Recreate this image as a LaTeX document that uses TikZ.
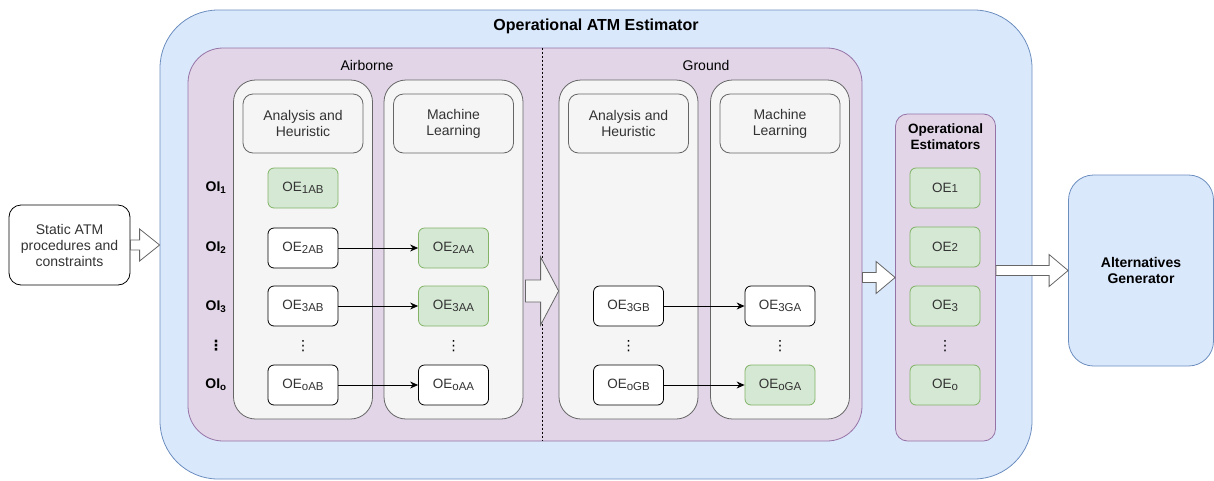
\documentclass[tikz,border=0pt]{standalone}
\usepackage{fontspec}
\setmainfont{Liberation Sans}
\newfontfamily\symfont{DejaVu Sans}
\usetikzlibrary{arrows.meta, calc, positioning}

\definecolor{atmblue}{HTML}{DAE8FC}
\definecolor{atmbluedraw}{HTML}{6C8EBF}
\definecolor{atmpurple}{HTML}{E1D5E7}
\definecolor{atmpurpledraw}{HTML}{9673A6}
\definecolor{colgray}{HTML}{F5F5F5}
\definecolor{colgraydraw}{HTML}{666666}
\definecolor{oegreen}{HTML}{D5E8D4}
\definecolor{oegreendraw}{HTML}{82B366}
\definecolor{txtgray}{HTML}{333333}

\newcommand{\lowsub}[1]{\raisebox{-0.35ex}{\fontsize{11.5}{11.5}\selectfont #1}}
\newcommand{\vdotsym}{{\symfont ⋮}}
\newcommand{\blockarrow}[6][white]{%
  \draw[bigarrow, fill=#1] let \p1=(#2), \p2=(#3) in
    (\x1,{\y1+#4}) -- ({\x2-#6},{\y1+#4}) -- ({\x2-#6},{\y1+#5}) -- (\x2,\y1)
    -- ({\x2-#6},{\y1-#5}) -- ({\x2-#6},{\y1-#4}) -- (\x1,{\y1-#4}) -- cycle;}

\begin{document}
\begin{tikzpicture}[x=1pt, y=-1pt,
  every node/.style={font=\fontsize{14}{16}\selectfont, align=center},
  bluebox/.style={draw=atmbluedraw, fill=atmblue, line width=0.8pt},
  purplebox/.style={draw=atmpurpledraw, fill=atmpurple, line width=0.8pt},
  column/.style={draw=colgraydraw, fill=colgray, line width=0.8pt, rounded corners=22pt, minimum width=139pt, minimum height=339pt},
  header/.style={draw=colgraydraw, fill=colgray, text=txtgray, line width=0.8pt, rounded corners=10pt, minimum width=120pt, minimum height=59pt},
  oe/.style={draw=black, fill=white, text=txtgray, line width=0.8pt, rounded corners=6pt, minimum width=70pt, minimum height=40pt, font=\fontsize{13.5}{16}\selectfont},
  oegood/.style={oe, draw=oegreendraw, fill=oegreen},
  oi/.style={font=\bfseries\fontsize{14}{16}\selectfont},
  link/.style={-{Stealth[length=8pt,width=7pt]}, line width=0.8pt},
  bigarrow/.style={draw=colgraydraw, line width=0.8pt}]
\useasboundingbox (0,0) rectangle (1214,480);

% Operational ATM Estimator
\node[bluebox, rounded corners=58pt, minimum width=872pt, minimum height=469pt] (atm) at (596,244.5) {};
\node[font=\bfseries\fontsize{16}{18}\selectfont] (atmtitle) at (596,26) {Operational ATM Estimator};

% Airborne / Ground
\node[purplebox, rounded corners=35pt, minimum width=674pt, minimum height=393pt] (modes) at (525,244.5) {};
\node (airtitle) at (367,65) {Airborne};
\node (gndtitle) at (706,65) {Ground};
\draw[dash pattern=on 2pt off 2pt, line width=0.6pt] (modes.north -| 542,0) -- (modes.south -| 542,0);

\node[column] (airah) at (303,249.5) {};
\node[column] (airml) at (453.5,249.5) {};
\node[column] (gndah) at (628.5,249.5) {};
\node[column] (gndml) at (780,249.5) {};
\node[header] (airahhead) at (303,123.5) {Analysis and\\Heuristic};
\node[header] (airmlhead) at (453.5,123.5) {Machine\\Learning};
\node[header] (gndahhead) at (628.5,123.5) {Analysis and\\Heuristic};
\node[header] (gndmlhead) at (780,123.5) {Machine\\Learning};

% indicators
\foreach \name/\lbl/\y in {oi1/1/188, oi2/2/248, oi3/3/307, oio/o/385} {
  \node[oi] (\name) at (216,\y) {OI\textsubscript{\lbl}};
}
\node[oi] (oidots) at (216,346) {\vdotsym};

% airborne estimators
\node[oegood] (oe1ab) at (303,188) {OE\lowsub{1AB}};
\node[oe] (oe2ab) at (303,248) {OE\lowsub{2AB}};
\node[oe] (oe3ab) at (303,306) {OE\lowsub{3AB}};
\node (abdots) at (303,346) {\vdotsym};
\node[oe] (oeoab) at (303,385) {OE\lowsub{oAB}};
\node[oegood] (oe2aa) at (453.5,248) {OE\lowsub{2AA}};
\node[oegood] (oe3aa) at (453.5,306) {OE\lowsub{3AA}};
\node (aadots) at (453.5,346) {\vdotsym};
\node[oe] (oeoaa) at (453.5,385) {OE\lowsub{oAA}};
\draw[link] (oe2ab) -- (oe2aa);
\draw[link] (oe3ab) -- (oe3aa);
\draw[link] (oeoab) -- (oeoaa);

% ground estimators
\node[oe] (oe3gb) at (628.5,306) {OE\lowsub{3GB}};
\node (gbdots) at (628.5,346) {\vdotsym};
\node[oe] (oeogb) at (628.5,385) {OE\lowsub{oGB}};
\node[oe] (oe3ga) at (780,306) {OE\lowsub{3GA}};
\node (gadots) at (780,346) {\vdotsym};
\node[oegood] (oeoga) at (780,385) {OE\lowsub{oGA}};
\draw[link] (oe3gb) -- (oe3ga);
\draw[link] (oeogb) -- (oeoga);

\coordinate (midfrom) at ($(airml.east)+(2,41.5)$);
\blockarrow[colgray]{midfrom}{midfrom -| gndah.west}{11pt}{34pt}{18pt}

% Operational Estimators
\node[purplebox, rounded corners=12pt, minimum width=100pt, minimum height=327pt] (ops) at (945.5,277.5) {};
\node[font=\bfseries\fontsize{13.5}{16}\selectfont] (opstitle) at (945.5,137) {Operational\\Estimators};
\node[oegood] (oe1) at (945,188) {OE{\fontsize{11.5}{11.5}\selectfont 1}};
\node[oegood] (oe2) at (945,247) {OE{\fontsize{11.5}{11.5}\selectfont 2}};
\node[oegood] (oe3) at (945,306) {OE\lowsub{3}};
\node (opsdots) at (945,346) {\vdotsym};
\node[oegood] (oeo) at (945,385) {OE\lowsub{o}};
\coordinate (opsfrom) at ($(modes.east)+(0,33)$);
\blockarrow{opsfrom}{opsfrom -| ops.west}{5pt}{16pt}{19pt}

% input and output
\node[draw=black, fill=white, line width=0.8pt, rounded corners=12pt, minimum width=121pt, minimum height=80pt, text=txtgray] (static) at (69.5,245) {Static ATM\\procedures and\\constraints};
\blockarrow{static.east}{static.east -| atm.west}{5pt}{16pt}{20pt}
\node[bluebox, rounded corners=25pt, minimum width=145pt, minimum height=191pt, font=\bfseries\fontsize{14}{16}\selectfont] (alt) at (1141,270.5) {Alternatives\\Generator};
\blockarrow{alt.west -| ops.east}{alt.west}{5pt}{16pt}{19pt}
\end{tikzpicture}
\end{document}
